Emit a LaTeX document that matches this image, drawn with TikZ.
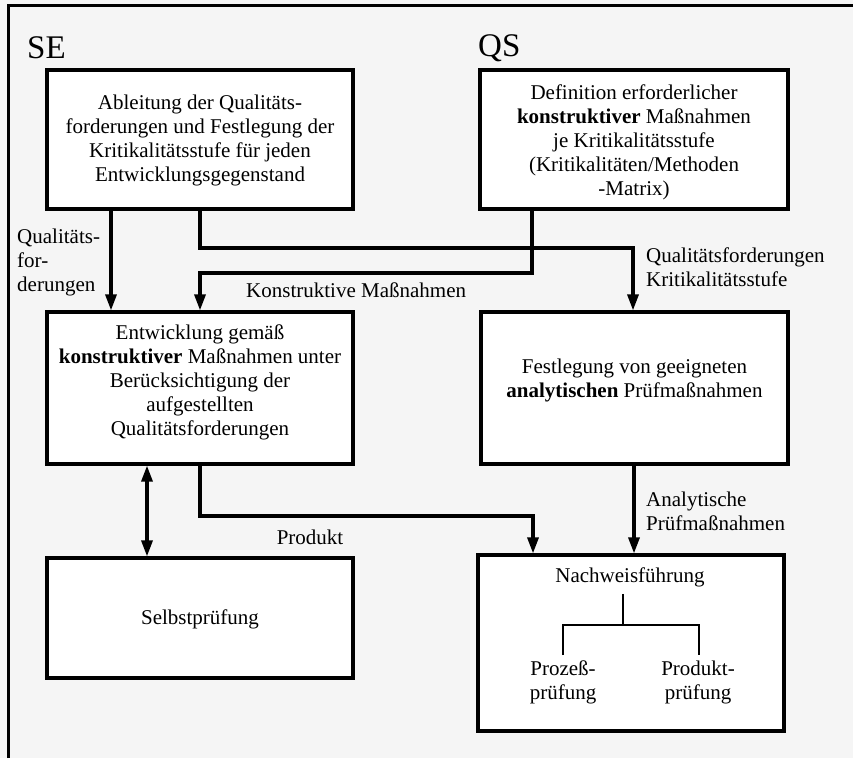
\documentclass[tikz,border=0pt]{standalone}
\usepackage{fontspec}
\setmainfont{Liberation Serif}
\usetikzlibrary{arrows.meta}
\definecolor{bg}{HTML}{F5F5F5}
\begin{document}
\begin{tikzpicture}[x=1pt,y=-1pt,
  box/.style={draw, line width=3.2pt, fill=white, inner sep=0pt},
  txt/.style={align=center, font=\fontsize{21}{24}\selectfont, inner sep=0pt},
  lbl/.style={align=left, font=\fontsize{21}{24}\selectfont, inner sep=0pt, anchor=west},
  head/.style={font=\fontsize{33}{36}\selectfont, inner sep=0pt, anchor=west},
  conn/.style={line width=3.2pt, -{Triangle[length=16pt,width=11pt]}},
  dconn/.style={line width=3.2pt, {Triangle[length=16pt,width=11pt]}-{Triangle[length=16pt,width=11pt]}},
  thinline/.style={line width=1.3pt}]
\fill[bg] (0,0) rectangle (853,758);
\useasboundingbox (0,0) rectangle (853,758);
\draw[line width=3pt] (8.5,758) -- (8.5,5.5) -- (853,5.5);

\node[head] (SE) at (27,48) {SE};
\node[head] (QS) at (478,48) {QS};

% boxes
\node[box, minimum width=306pt, minimum height=139pt] (A) at (200,139.5) {};
\node[box, minimum width=308pt, minimum height=139pt] (Q) at (634,139.5) {};
\node[box, minimum width=306pt, minimum height=152pt] (B) at (200,388) {};
\node[box, minimum width=307pt, minimum height=152pt] (C) at (634.5,388) {};
\node[box, minimum width=306pt, minimum height=120pt] (D) at (200,618) {};
\node[box, minimum width=306pt, minimum height=176pt] (E) at (631,643) {};

% box texts
\node[txt] (At) at (200,140) {Ableitung der Qualitäts-\\forderungen und Festlegung der\\Kritikalitätsstufe für jeden\\Entwicklungsgegenstand};
\node[txt] (Qt) at (634,142) {Definition erforderlicher\\\textbf{konstruktiver} Maßnahmen\\je Kritikalitätsstufe\\(Kritikalitäten/Methoden\\-Matrix)};
\node[txt] (Bt) at (200,382) {Entwicklung gemäß\\\textbf{konstruktiver} Maßnahmen unter\\Berücksichtigung der\\aufgestellten\\Qualitätsforderungen};
\node[txt] (Ct) at (634.5,380.5) {Festlegung von geeigneten\\\textbf{analytischen} Prüfmaßnahmen};
\node[txt] (Dt) at (200,619) {Selbstprüfung};
\node[txt] (N) at (630,577) {Nachweisführung};
\node[txt] (P1) at (563,682) {Prozeß-\\prüfung};
\node[txt] (P2) at (698,682) {Produkt-\\prüfung};

% helper coordinates
\coordinate (x111) at (111,0);
\coordinate (x147) at (147,0);
\coordinate (x200) at (200,0);
\coordinate (x532) at (532,0);
\coordinate (x533) at (533,0);
\coordinate (x633) at (633,0);
\coordinate (x634) at (634,0);
\coordinate (k1) at (200,248);
\coordinate (k2) at (532,273);
\coordinate (k3) at (200,516);
\coordinate (j) at (623,625);
\coordinate (p1top) at (563,655);
\coordinate (p2top) at (699,655);

% connectors
\draw[conn] (A.south -| x111) -- (B.north -| x111);
\draw[conn] (A.south -| x200) -- (k1) -| (C.north -| x633);
\draw[conn] (Q.south -| x532) -- (k2) -| (B.north -| x200);
\draw[dconn] (B.south -| x147) -- (D.north -| x147);
\draw[conn] (B.south -| x200) -- (k3) -| (E.north -| x533);
\draw[conn] (C.south -| x634) -- (E.north -| x634);

% tree in E
\draw[thinline] (j |- N.south) ++(0,7) -- (j);
\draw[thinline] (p1top) |- (j) -| (p2top);

% labels
\node[lbl] (l1) at (17,262.5) {Qualitäts-\\for-\\derungen};
\node[lbl] (l2) at (246,290) {Konstruktive Maßnahmen};
\node[lbl] (l3) at (646,267.5) {Qualitätsforderungen\\Kritikalitätsstufe};
\node[txt] (l4) at (310,537) {Produkt};
\node[lbl] (l5) at (646,511) {Analytische\\Prüfmaßnahmen};
\end{tikzpicture}
\end{document}
